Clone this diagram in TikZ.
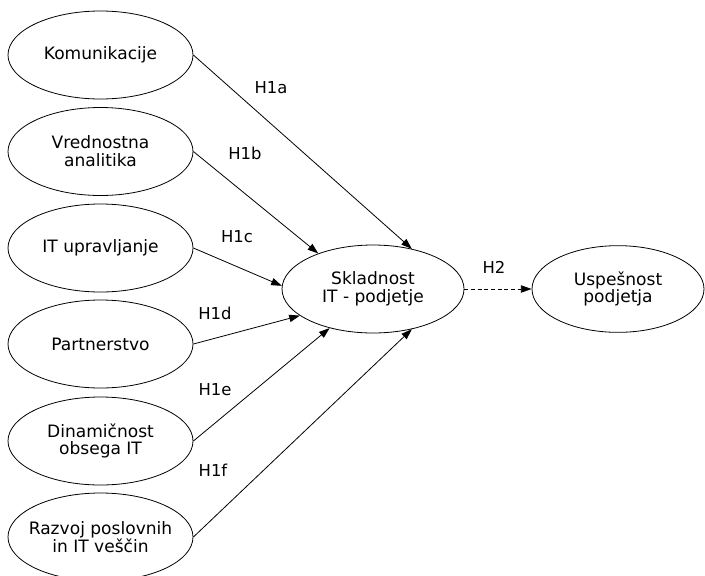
\documentclass[tikz,border=0pt]{standalone}
\usepackage{fontspec}
\setmainfont{DejaVu Sans}
\usetikzlibrary{shapes.geometric,arrows.meta}

\tikzset{
  construct/.style={ellipse, draw, line width=0.6pt, inner xsep=-14pt, inner ysep=-4pt,
    minimum width=138.75pt, minimum height=66pt, align=center,
    font=\fontsize{12.8}{13.4}\selectfont},
  hyparrow/.style={line width=0.6pt, -{Triangle[length=8pt,width=5.5pt]}},
  hyplabel/.style={inner sep=0.75pt, font=\fontsize{12.3}{14}\selectfont}
}

\begin{document}
\begin{tikzpicture}[x=0.75pt,y=0.75pt,yscale=-1,xscale=1]
\useasboundingbox (0,0) rectangle (705,575);

% Left constructs
\node [construct] (kom) at (100.5,55) {Komunikacije};
\node [construct] (vre) at (100.5,151.5) {Vrednostna\\analitika};
\node [construct] (upr) at (100.5,248) {IT upravljanje};
\node [construct] (par) at (100.5,344) {Partnerstvo};
\node [construct] (din) at (100.5,441) {Dinami\v{c}nost\\obsega IT};
\node [construct] (raz) at (100.5,537) {Razvoj poslovnih\\in IT ve\v{s}\v{c}in};

% Centre and right
\node [construct, minimum width=136.5pt] (skl) at (373,289) {Skladnost\\IT - podjetje};
\node [construct, minimum width=129pt, minimum height=65pt] (usp) at (618,289) {Uspe\v{s}nost\\podjetja};

% Paths
\draw [hyparrow] (kom.east) -- (skl.46);
\draw [hyparrow] (vre.east) -- (skl.147);
\draw [hyparrow] (upr.east) -- (skl.178);
\draw [hyparrow] (par.east) -- (skl.200);
\draw [hyparrow] (din.east) -- (skl.222);
\draw [hyparrow] (raz.east) -- (skl.314);
\draw [hyparrow, dash pattern=on 3pt off 2pt] (skl.east) -- (usp.west);

% Text Node
\node [hyplabel] (h1a) at (271,88) {H1a};
\node [hyplabel] (h1b) at (245,153) {H1b};
\node [hyplabel] (h1c) at (237,237) {H1c};
\node [hyplabel] (h1d) at (215,313) {H1d};
\node [hyplabel] (h1e) at (215,390) {H1e};
\node [hyplabel] (h1f) at (213,470) {H1f};
\node [hyplabel] (h2) at (494,267) {H2};

\end{tikzpicture}
\end{document}
